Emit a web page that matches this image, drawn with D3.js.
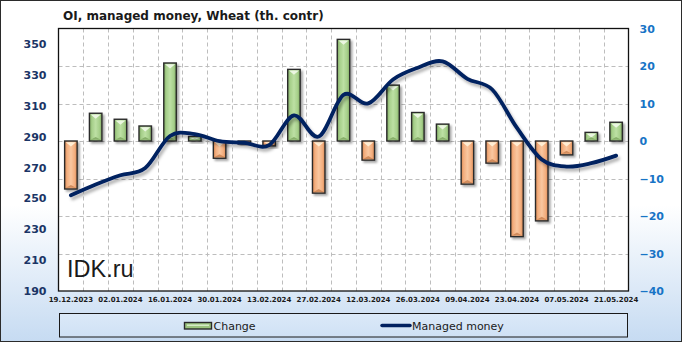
<!DOCTYPE html>
<html>
<head>
<meta charset="utf-8">
<script src="https://cdn.jsdelivr.net/npm/d3@7"></script>
<style>
  html, body { margin: 0; padding: 0; background: #fff; }
  svg { display: block; }
</style>
</head>
<body>
<svg id="chart" width="682" height="342"></svg>
<script>
// ---------- DATA ----------
const dates = ["19.12.2023","26.12.2023","02.01.2024","09.01.2024","16.01.2024","23.01.2024","30.01.2024",
  "06.02.2024","13.02.2024","20.02.2024","27.02.2024","05.03.2024","12.03.2024","19.03.2024","26.03.2024",
  "02.04.2024","09.04.2024","16.04.2024","23.04.2024","30.04.2024","07.05.2024","14.05.2024","21.05.2024"];
const change = [-12.8, 7.4, 5.8, 4.0, 20.8, 1.2, -4.6, -0.8, -1.3, 19.1, -13.9, 27.1, -5.1, 14.9, 7.6,
  4.5, -11.5, -5.9, -25.5, -21.3, -3.7, 2.3, 5.0];
const managedMoney = [252.0, 259.0, 265.0, 269.6, 290.4, 291.6, 287.0, 286.0, 284.5, 303.7, 290.0, 317.0,
  311.5, 327.0, 334.6, 338.7, 327.4, 320.5, 295.6, 275.2, 270.6, 272.8, 277.7];
const leftTicks = [190, 210, 230, 250, 270, 290, 310, 330, 350];
const rightTicks = [-40, -30, -20, -10, 0, 10, 20, 30];
const title = "OI, managed money, Wheat (th. contr)";
const seriesNames = ["Change", "Managed money"];

// ---------- LAYOUT ----------
const W = 682, H = 342;
const plot = { left: 58.5, right: 628.5, top: 28.5, bottom: 291 };

const svg = d3.select("#chart");
const defs = svg.append("defs");

// background gradient
const bg = defs.append("linearGradient").attr("id", "bgGrad").attr("x1", 0).attr("y1", 0).attr("x2", 0).attr("y2", 1);
bg.append("stop").attr("offset", "0").attr("stop-color", "#ffffff");
bg.append("stop").attr("offset", "0.6").attr("stop-color", "#ffffff");
bg.append("stop").attr("offset", "1").attr("stop-color", "#c6dbf2");

const lg = defs.append("linearGradient").attr("id", "legGrad").attr("x1", 0).attr("y1", 0).attr("x2", 0).attr("y2", 1);
lg.append("stop").attr("offset", "0").attr("stop-color", "#dbe9f8");
lg.append("stop").attr("offset", "1").attr("stop-color", "#cfe1f5");

function barGrad(id, edge, mid, center) {
  const g = defs.append("linearGradient").attr("id", id).attr("x1", 0).attr("y1", 0).attr("x2", 1).attr("y2", 0);
  g.append("stop").attr("offset", "0").attr("stop-color", edge);
  g.append("stop").attr("offset", "0.2").attr("stop-color", mid);
  g.append("stop").attr("offset", "0.5").attr("stop-color", center);
  g.append("stop").attr("offset", "0.8").attr("stop-color", mid);
  g.append("stop").attr("offset", "1").attr("stop-color", edge);
}
barGrad("gGreen", "#7fa862", "#a6cf8a", "#bde0a4");
barGrad("gOrange", "#d98a55", "#f3ae7e", "#f9c7a0");

const sh = defs.append("filter").attr("id", "shadow").attr("x", "-50%").attr("y", "-50%").attr("width", "200%").attr("height", "200%");
sh.append("feDropShadow").attr("dx", 2).attr("dy", 2).attr("stdDeviation", 1.3).attr("flood-color", "#000").attr("flood-opacity", 0.35);
const sh2 = defs.append("filter").attr("id", "lshadow").attr("x", "-10%").attr("y", "-20%").attr("width", "120%").attr("height", "140%");
sh2.append("feDropShadow").attr("dx", 2).attr("dy", 3).attr("stdDeviation", 1.6).attr("flood-color", "#000").attr("flood-opacity", 0.3);

// outer background
svg.append("rect").attr("x", 0.5).attr("y", 0.5).attr("width", W - 1).attr("height", H - 1)
  .attr("fill", "url(#bgGrad)").attr("stroke", "#2b2b2b").attr("stroke-width", 1);

// plot background
svg.append("rect").attr("x", plot.left).attr("y", plot.top)
  .attr("width", plot.right - plot.left).attr("height", plot.bottom - plot.top).attr("fill", "#ffffff");

// ---------- SCALES ----------
const x = d3.scaleBand().domain(dates).range([plot.left, plot.right]).padding(0);
const yL = d3.scaleLinear().domain([190, 360]).range([plot.bottom, plot.top]);
const yR = d3.scaleLinear().domain([-40, 30]).range([plot.bottom, plot.top]);

// ---------- GRID ----------
const grid = svg.append("g").attr("stroke", "#bdbdbd").attr("stroke-dasharray", "4,3").attr("stroke-width", 1);
rightTicks.filter(t => t > -40 && t < 30).forEach(t => {
  grid.append("line").attr("x1", plot.left).attr("x2", plot.right)
    .attr("y1", Math.round(yR(t)) + 0.5).attr("y2", Math.round(yR(t)) + 0.5);
});
dates.slice(1).forEach(d => {
  const xx = Math.round(x(d)) + 0.5;
  grid.append("line").attr("x1", xx).attr("x2", xx).attr("y1", plot.top).attr("y2", plot.bottom);
});

// ---------- BARS ----------
const bw = 12.5;
const bars = svg.append("g");
dates.forEach((d, i) => {
  const v = change[i];
  const cx = x(d) + x.bandwidth() / 2;
  const y0 = yR(0), y1 = yR(v);
  const top = Math.min(y0, y1), h = Math.max(Math.abs(y1 - y0), 1.5);
  const pos = v >= 0;
  const g = bars.append("g");
  g.append("rect").attr("x", cx - bw / 2).attr("y", top).attr("width", bw).attr("height", h)
    .attr("fill", pos ? "url(#gGreen)" : "url(#gOrange)")
    .attr("stroke", "#2a2a2a").attr("stroke-width", 1.4).attr("filter", "url(#shadow)");
  // bevel highlights
  const tri = Math.min(bw / 2 - 1.5, h / 2);
  if (h > 4) {
    g.append("path")
      .attr("d", `M${cx - bw / 2 + 1.2},${top + 1.2}L${cx + bw / 2 - 1.2},${top + 1.2}L${cx},${top + 1.2 + tri * 0.9}Z`)
      .attr("fill", pos ? "#eef8e6" : "#fff0d8").attr("opacity", 0.95);
    g.append("path")
      .attr("d", `M${cx - bw / 2 + 1.2},${top + h - 1.2}L${cx + bw / 2 - 1.2},${top + h - 1.2}L${cx},${top + h - 1.2 - tri * 0.6}Z`)
      .attr("fill", pos ? "#78a05a" : "#c47a48").attr("opacity", 0.75);
  }
});

// ---------- LINE ----------
const line = d3.line()
  .x((d, i) => x(dates[i]) + x.bandwidth() / 2)
  .y(d => yL(d))
  .curve(d3.curveCardinal.tension(0));
svg.append("path").datum(managedMoney).attr("d", line)
  .attr("fill", "none").attr("stroke", "#002060").attr("stroke-width", 3.8)
  .attr("stroke-linecap", "round").attr("filter", "url(#lshadow)");

// plot border
svg.append("rect").attr("x", plot.left).attr("y", plot.top)
  .attr("width", plot.right - plot.left).attr("height", plot.bottom - plot.top)
  .attr("fill", "none").attr("stroke", "#111").attr("stroke-width", 1.3);

// ---------- AXES ----------
const axL = svg.append("g").attr("transform", `translate(${plot.left},0)`)
  .call(d3.axisLeft(yL).tickValues(leftTicks).tickSize(0).tickPadding(12).tickFormat(d3.format("d")));
axL.select(".domain").remove();
axL.selectAll("text").attr("font-family", "DejaVu Sans").attr("font-weight", "bold")
  .attr("font-size", "11px").attr("fill", "#1b3566");

const axR = svg.append("g").attr("transform", `translate(${plot.right},0)`)
  .call(d3.axisRight(yR).tickValues(rightTicks).tickSize(0).tickPadding(11).tickFormat(d3.format("d")));
axR.select(".domain").remove();
axR.selectAll("text").attr("font-family", "DejaVu Sans").attr("font-weight", "bold")
  .attr("font-size", "11px").attr("fill", "#1874c6");

const axB = svg.append("g").attr("transform", `translate(0,${plot.bottom})`)
  .call(d3.axisBottom(x).tickSize(0).tickPadding(6).tickFormat((d, i) => i % 2 === 0 ? d : ""));
axB.select(".domain").remove();
axB.selectAll("text").attr("font-family", "DejaVu Sans").attr("font-weight", "bold")
  .attr("font-size", "7px").attr("fill", "#1a1a1a");

// ---------- TITLE ----------
svg.append("text").attr("x", 63).attr("y", 19.5).text(title)
  .attr("font-family", "DejaVu Sans").attr("font-weight", "bold").attr("font-size", "12px").attr("fill", "#1a1a1a");

// watermark
svg.append("text").attr("x", 67).attr("y", 277).text("IDK.ru")
  .attr("font-family", "Liberation Sans").attr("font-size", "23.5px").attr("fill", "#1a1a1a");

// ---------- LEGEND ----------
const leg = svg.append("g");
leg.append("rect").attr("x", 59.5).attr("y", 313.5).attr("width", 568).attr("height", 23.5)
  .attr("fill", "url(#legGrad)").attr("stroke", "#1a1a1a").attr("stroke-width", 1);
leg.append("rect").attr("x", 184.5).attr("y", 322.5).attr("width", 27).attr("height", 6.5)
  .attr("fill", "#9cc47e").attr("stroke", "#2a2a2a").attr("stroke-width", 1.4);
leg.append("rect").attr("x", 187).attr("y", 324.5).attr("width", 22).attr("height", 1.5).attr("fill", "#d6ebc6");
leg.append("text").attr("x", 213.5).attr("y", 329.5).text(seriesNames[0])
  .attr("font-family", "DejaVu Sans").attr("font-size", "11px").attr("fill", "#1a1a1a");
leg.append("line").attr("x1", 382).attr("x2", 410).attr("y1", 325.5).attr("y2", 325.5)
  .attr("stroke", "#002060").attr("stroke-width", 3.5).attr("stroke-linecap", "round");
leg.append("text").attr("x", 412).attr("y", 329.5).text(seriesNames[1])
  .attr("font-family", "DejaVu Sans").attr("font-size", "11px").attr("fill", "#1a1a1a");
</script>
</body>
</html>
